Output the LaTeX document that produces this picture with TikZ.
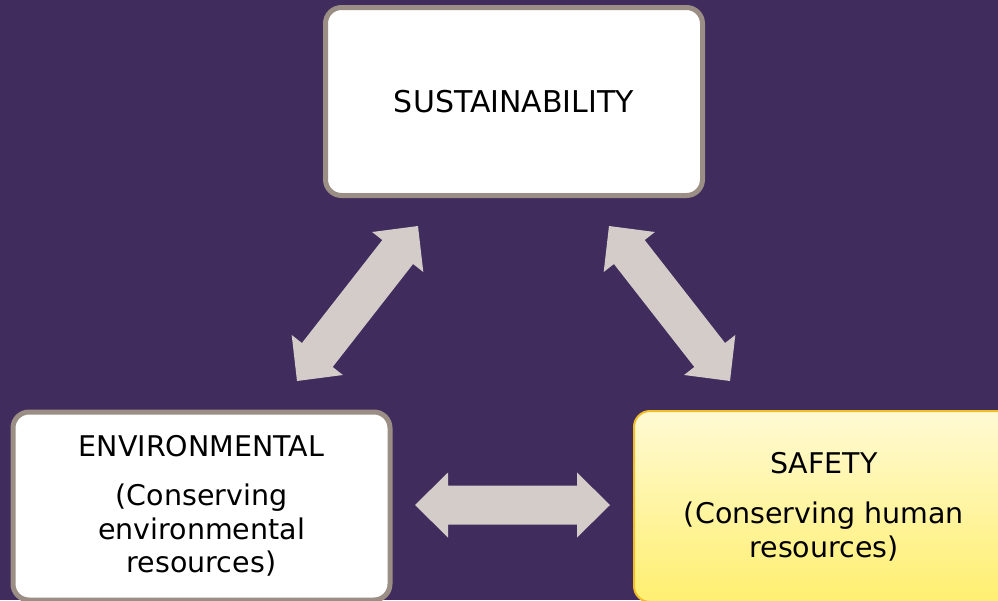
\documentclass[tikz,border=0pt]{standalone}
\usepackage{fontspec}
\setmainfont{DejaVu Sans}
\usetikzlibrary{calc}
\definecolor{bgpurple}{RGB}{64,44,93}
\definecolor{boxborder}{RGB}{155,143,133}
\definecolor{arrowfill}{RGB}{211,204,200}
\definecolor{yelborder}{RGB}{242,190,40}
\definecolor{yeltop}{RGB}{255,250,212}
\definecolor{yelbot}{RGB}{255,239,112}
\tikzset{
  whitebox/.style={draw=boxborder, line width=5pt, fill=white, rounded corners=16pt,
    minimum width=377pt, minimum height=188pt, inner sep=0pt, align=center,
    font=\fontsize{28.5}{33.5}\selectfont},
  yellowbox/.style={draw=yelborder, line width=2pt, top color=yeltop, bottom color=yelbot,
    rounded corners=16pt, minimum width=380pt, minimum height=191pt, inner sep=0pt,
    align=center, font=\fontsize{28.5}{34}\selectfont},
  blockarrow/.style={fill=arrowfill, draw=none}
}
\newcommand{\dblblockarrow}[2]{%
  \fill[blockarrow] (#1)
    -- ($($(#1)!33pt!(#2)$)!32.5pt!90:(#2)$)
    -- ($($(#1)!33pt!(#2)$)!19.5pt!90:(#2)$)
    -- ($($(#2)!33pt!(#1)$)!19.5pt!-90:(#1)$)
    -- ($($(#2)!33pt!(#1)$)!32.5pt!-90:(#1)$)
    -- (#2)
    -- ($($(#2)!33pt!(#1)$)!32.5pt!90:(#1)$)
    -- ($($(#2)!33pt!(#1)$)!19.5pt!90:(#1)$)
    -- ($($(#1)!33pt!(#2)$)!19.5pt!-90:(#2)$)
    -- ($($(#1)!33pt!(#2)$)!32.5pt!-90:(#2)$)
    -- cycle;}
\begin{document}
\begin{tikzpicture}[x=1pt,y=-1pt]
  \useasboundingbox (0,0) rectangle (998,600);
  \fill[bgpurple] (0,0) rectangle (998,600);

  \node[whitebox] (sust) at (514,101.5) {\fontsize{30}{33}\selectfont SUSTAINABILITY};
  \node[whitebox] (env) at (201.5,506) {ENVIRONMENTAL\\[16pt](Conserving\\environmental\\resources)};
  \node[yellowbox] (safe) at (824,506.5) {SAFETY\\[16pt](Conserving human\\resources)};

  \coordinate (a1) at (297,381);
  \coordinate (a2) at (418,226);
  \coordinate (b1) at (609,226);
  \coordinate (b2) at (730,381);
  \coordinate (c1) at (415,505);
  \coordinate (c2) at (610,505);

  \dblblockarrow{a1}{a2}
  \dblblockarrow{b1}{b2}
  \dblblockarrow{c1}{c2}
\end{tikzpicture}
\end{document}
